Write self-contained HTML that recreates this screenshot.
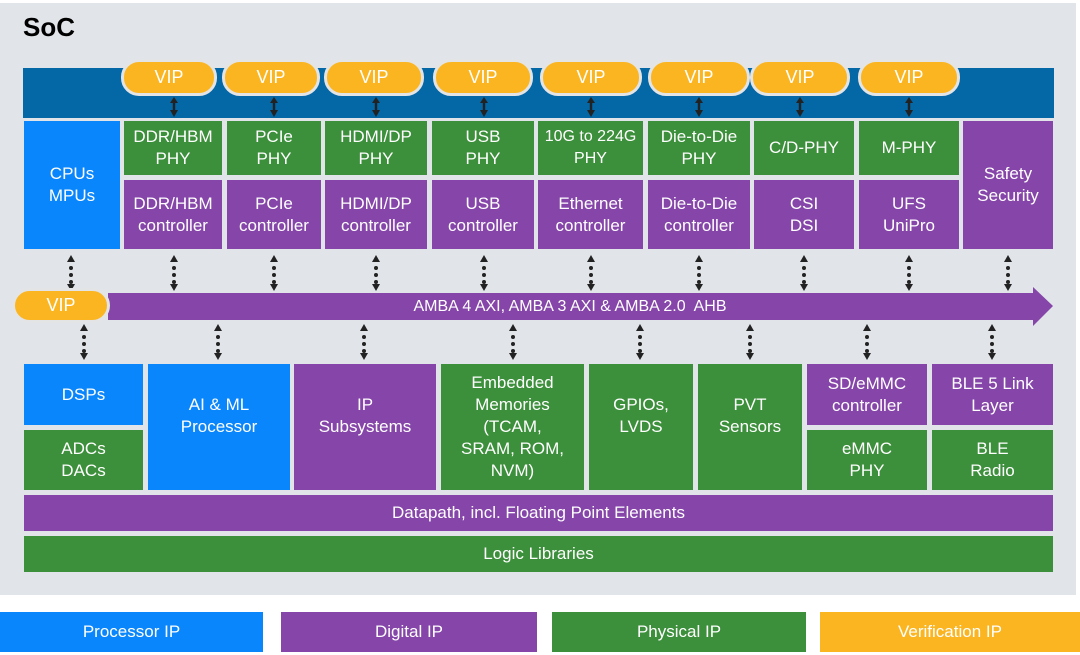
<!DOCTYPE html>
<html><head><meta charset="utf-8"><style>
*{margin:0;padding:0;box-sizing:border-box}
body{width:1080px;height:655px;background:#fff;position:relative;overflow:hidden;font-family:"Liberation Sans",sans-serif}
.a{position:absolute;display:flex;align-items:center;justify-content:center;text-align:center;color:#fff;font-size:17px;line-height:22px}
.b{background:#0a86fc}.p{background:#8545a9}.g{background:#3c8f3b}.o{background:#fbb521}
.vip{position:absolute;background:#fbb521;border:3px solid #e3e4e6;border-radius:18px;color:#fff;font-size:18px;display:flex;align-items:center;justify-content:center}
</style></head><body>
<div style="position:absolute;left:0;top:3px;width:1076px;height:592px;background:#e1e4e9"></div>
<div style="position:absolute;left:23px;top:12px;font-size:26px;font-weight:bold;color:#000">SoC</div>
<div style="position:absolute;left:23px;top:68px;width:1031px;height:50px;background:#0467a6"></div>

<div class="vip" style="left:121px;top:59px;width:96px;height:37px">VIP</div>
<div class="vip" style="left:222px;top:59px;width:98px;height:37px">VIP</div>
<div class="vip" style="left:324px;top:59px;width:100px;height:37px">VIP</div>
<div class="vip" style="left:433px;top:59px;width:100px;height:37px">VIP</div>
<div class="vip" style="left:540px;top:59px;width:102px;height:37px">VIP</div>
<div class="vip" style="left:648px;top:59px;width:102px;height:37px">VIP</div>
<div class="vip" style="left:750px;top:59px;width:100px;height:37px">VIP</div>
<div class="vip" style="left:858px;top:59px;width:102px;height:37px">VIP</div>

<div class="a b" style="left:24px;top:121px;width:96px;height:128px">CPUs<br>MPUs</div>
<div class="a g" style="left:124px;top:121px;width:98px;height:54px">DDR/HBM<br>PHY</div>
<div class="a p" style="left:124px;top:180px;width:98px;height:69px">DDR/HBM<br>controller</div>
<div class="a g" style="left:227px;top:121px;width:94px;height:54px">PCIe<br>PHY</div>
<div class="a p" style="left:227px;top:180px;width:94px;height:69px">PCIe<br>controller</div>
<div class="a g" style="left:325px;top:121px;width:102px;height:54px">HDMI/DP<br>PHY</div>
<div class="a p" style="left:325px;top:180px;width:102px;height:69px">HDMI/DP<br>controller</div>
<div class="a g" style="left:432px;top:121px;width:102px;height:54px">USB<br>PHY</div>
<div class="a p" style="left:432px;top:180px;width:102px;height:69px">USB<br>controller</div>
<div class="a g" style="left:538px;top:121px;width:105px;height:54px;font-size:16px">10G to 224G<br>PHY</div>
<div class="a p" style="left:538px;top:180px;width:105px;height:69px">Ethernet<br>controller</div>
<div class="a g" style="left:648px;top:121px;width:102px;height:54px">Die-to-Die<br>PHY</div>
<div class="a p" style="left:648px;top:180px;width:102px;height:69px">Die-to-Die<br>controller</div>
<div class="a g" style="left:754px;top:121px;width:100px;height:54px">C/D-PHY</div>
<div class="a p" style="left:754px;top:180px;width:100px;height:69px">CSI<br>DSI</div>
<div class="a g" style="left:859px;top:121px;width:100px;height:54px">M-PHY</div>
<div class="a p" style="left:859px;top:180px;width:100px;height:69px">UFS<br>UniPro</div>
<div class="a p" style="left:963px;top:121px;width:90px;height:128px">Safety<br>Security</div>

<svg style="position:absolute;left:0;top:0" width="1080" height="655" fill="#222">
<polygon points="108,293 1033,293 1033,287 1053,306 1033,326 1033,320 108,320" fill="#8545a9"/>
<defs>
<g id="sa"><polygon points="-4,103 4,103 0,97"/><rect x="-1.2" y="101" width="2.4" height="9"/><polygon points="-4,110 4,110 0,117"/></g>
<g id="da"><polygon points="-4,262 4,262 0,255"/><circle cx="0" cy="268" r="2"/><circle cx="0" cy="275" r="2"/><circle cx="0" cy="282" r="2"/><polygon points="-4,284 4,284 0,291"/></g>
<g id="la"><polygon points="-4,331 4,331 0,324"/><circle cx="0" cy="337" r="2"/><circle cx="0" cy="344" r="2"/><circle cx="0" cy="351" r="2"/><polygon points="-4,353 4,353 0,360"/></g>
</defs>
<use href="#sa" x="174"/><use href="#sa" x="274"/><use href="#sa" x="376"/><use href="#sa" x="484"/><use href="#sa" x="591"/><use href="#sa" x="699"/><use href="#sa" x="800"/><use href="#sa" x="909"/>
<use href="#da" x="71"/><use href="#da" x="174"/><use href="#da" x="274"/><use href="#da" x="376"/><use href="#da" x="484"/><use href="#da" x="591"/><use href="#da" x="699"/><use href="#da" x="804"/><use href="#da" x="909"/><use href="#da" x="1008"/>
<use href="#la" x="84"/><use href="#la" x="218"/><use href="#la" x="364"/><use href="#la" x="513"/><use href="#la" x="640"/><use href="#la" x="750"/><use href="#la" x="867"/><use href="#la" x="992"/>
</svg>
<div class="vip" style="left:12px;top:288px;width:98px;height:35px">VIP</div>
<div class="a" style="left:110px;top:293px;width:920px;height:27px;font-size:16px">AMBA 4 AXI, AMBA 3 AXI &amp; AMBA 2.0&nbsp; AHB</div>

<div class="a b" style="left:24px;top:364px;width:119px;height:61px">DSPs</div>
<div class="a g" style="left:24px;top:430px;width:119px;height:60px">ADCs<br>DACs</div>
<div class="a b" style="left:148px;top:364px;width:142px;height:126px;padding-bottom:22px">AI &amp; ML<br>Processor</div>
<div class="a p" style="left:294px;top:364px;width:142px;height:126px;padding-bottom:22px">IP<br>Subsystems</div>
<div class="a g" style="left:441px;top:364px;width:143px;height:126px">Embedded<br>Memories<br>(TCAM,<br>SRAM, ROM,<br>NVM)</div>
<div class="a g" style="left:589px;top:364px;width:104px;height:126px;padding-bottom:22px">GPIOs,<br>LVDS</div>
<div class="a g" style="left:698px;top:364px;width:104px;height:126px;padding-bottom:22px">PVT<br>Sensors</div>
<div class="a p" style="left:807px;top:364px;width:120px;height:61px">SD/eMMC<br>controller</div>
<div class="a g" style="left:807px;top:430px;width:120px;height:60px">eMMC<br>PHY</div>
<div class="a p" style="left:932px;top:364px;width:121px;height:61px">BLE 5 Link<br>Layer</div>
<div class="a g" style="left:932px;top:430px;width:121px;height:60px">BLE<br>Radio</div>
<div class="a p" style="left:24px;top:495px;width:1029px;height:36px">Datapath, incl. Floating Point Elements</div>
<div class="a g" style="left:24px;top:536px;width:1029px;height:36px">Logic Libraries</div>

<div class="a b" style="left:0;top:612px;width:263px;height:40px">Processor IP</div>
<div class="a p" style="left:281px;top:612px;width:256px;height:40px">Digital IP</div>
<div class="a g" style="left:552px;top:612px;width:254px;height:40px">Physical IP</div>
<div class="a o" style="left:820px;top:612px;width:260px;height:40px">Verification IP</div>
</body></html>
